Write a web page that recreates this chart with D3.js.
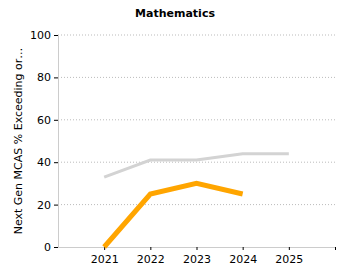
<!DOCTYPE html>
<html>
<head>
<meta charset="utf-8">
<script src="https://d3js.org/d3.v7.min.js"></script>
<style>
  body { margin: 0; background: #fff; }
  text { font-family: "DejaVu Sans", Verdana, sans-serif; }
</style>
</head>
<body>
<svg width="350" height="280"></svg>
<script>
  var years = [2021, 2022, 2023, 2024, 2025];
  var stateVals = [33, 41, 41, 44, 44];
  var schoolYears = [2021, 2022, 2023, 2024];
  var schoolVals = [0, 25, 30, 25];
  var yTicks = [0, 20, 40, 60, 80, 100];

  var svg = d3.select("svg");
  var marge = {top: 35, right: 15, bottom: 33, left: 58};
  var width = 350, height = 280;

  var x = d3.scaleLinear().domain([2020, 2026]).range([marge.left, width - marge.right]);
  var y = d3.scaleLinear().domain([0, 100]).range([height - marge.bottom, marge.top]);

  // title
  svg.append("text")
    .attr("x", 175).attr("y", 17)
    .attr("text-anchor", "middle")
    .attr("font-size", 11).attr("font-weight", "bold")
    .text("Mathematics");

  // grid
  svg.append("g").selectAll("line")
    .data(yTicks.slice(1))
    .enter().append("line")
    .attr("x1", marge.left).attr("x2", width - marge.right)
    .attr("y1", d => y(d)).attr("y2", d => y(d))
    .attr("stroke", "#bbb").attr("stroke-dasharray", "1,2");

  // y axis
  var gy = svg.append("g").attr("transform", "translate(" + marge.left + ",0)")
    .call(d3.axisLeft(y).tickValues(yTicks).tickSize(4).tickSizeOuter(0));
  gy.select(".domain").attr("stroke", "#ccc");
  gy.selectAll("text").attr("font-size", 11).attr("fill", "#000");
  gy.selectAll(".tick line").attr("stroke", "#000");

  // x axis
  var gx = svg.append("g").attr("transform", "translate(0," + y(0) + ")")
    .call(d3.axisBottom(x).tickValues(years.concat([2026])).tickFormat(d => d === 2026 ? "" : d).tickSize(3).tickSizeOuter(0));
  gx.select(".domain").attr("stroke", "#ccc");
  gx.selectAll("text").attr("font-size", 11).attr("fill", "#000").attr("dy", "0.9em");
  gx.selectAll(".tick line").attr("stroke", "#000");

  // y label
  svg.append("text")
    .attr("transform", "translate(22," + ((y(0) + y(100)) / 2) + ") rotate(-90)")
    .attr("text-anchor", "middle")
    .attr("font-size", 11)
    .text("Next Gen MCAS % Exceeding or…");

  var line = d3.line().x(d => x(d[0])).y(d => y(d[1]));

  svg.append("path")
    .datum(years.map((d, i) => [d, stateVals[i]]))
    .attr("d", line).attr("fill", "none")
    .attr("stroke", "#d3d3d3").attr("stroke-width", 3);

  svg.append("path")
    .datum(schoolYears.map((d, i) => [d, schoolVals[i]]))
    .attr("d", line).attr("fill", "none")
    .attr("stroke", "#ffa500").attr("stroke-width", 5);
</script>
</body>
</html>
